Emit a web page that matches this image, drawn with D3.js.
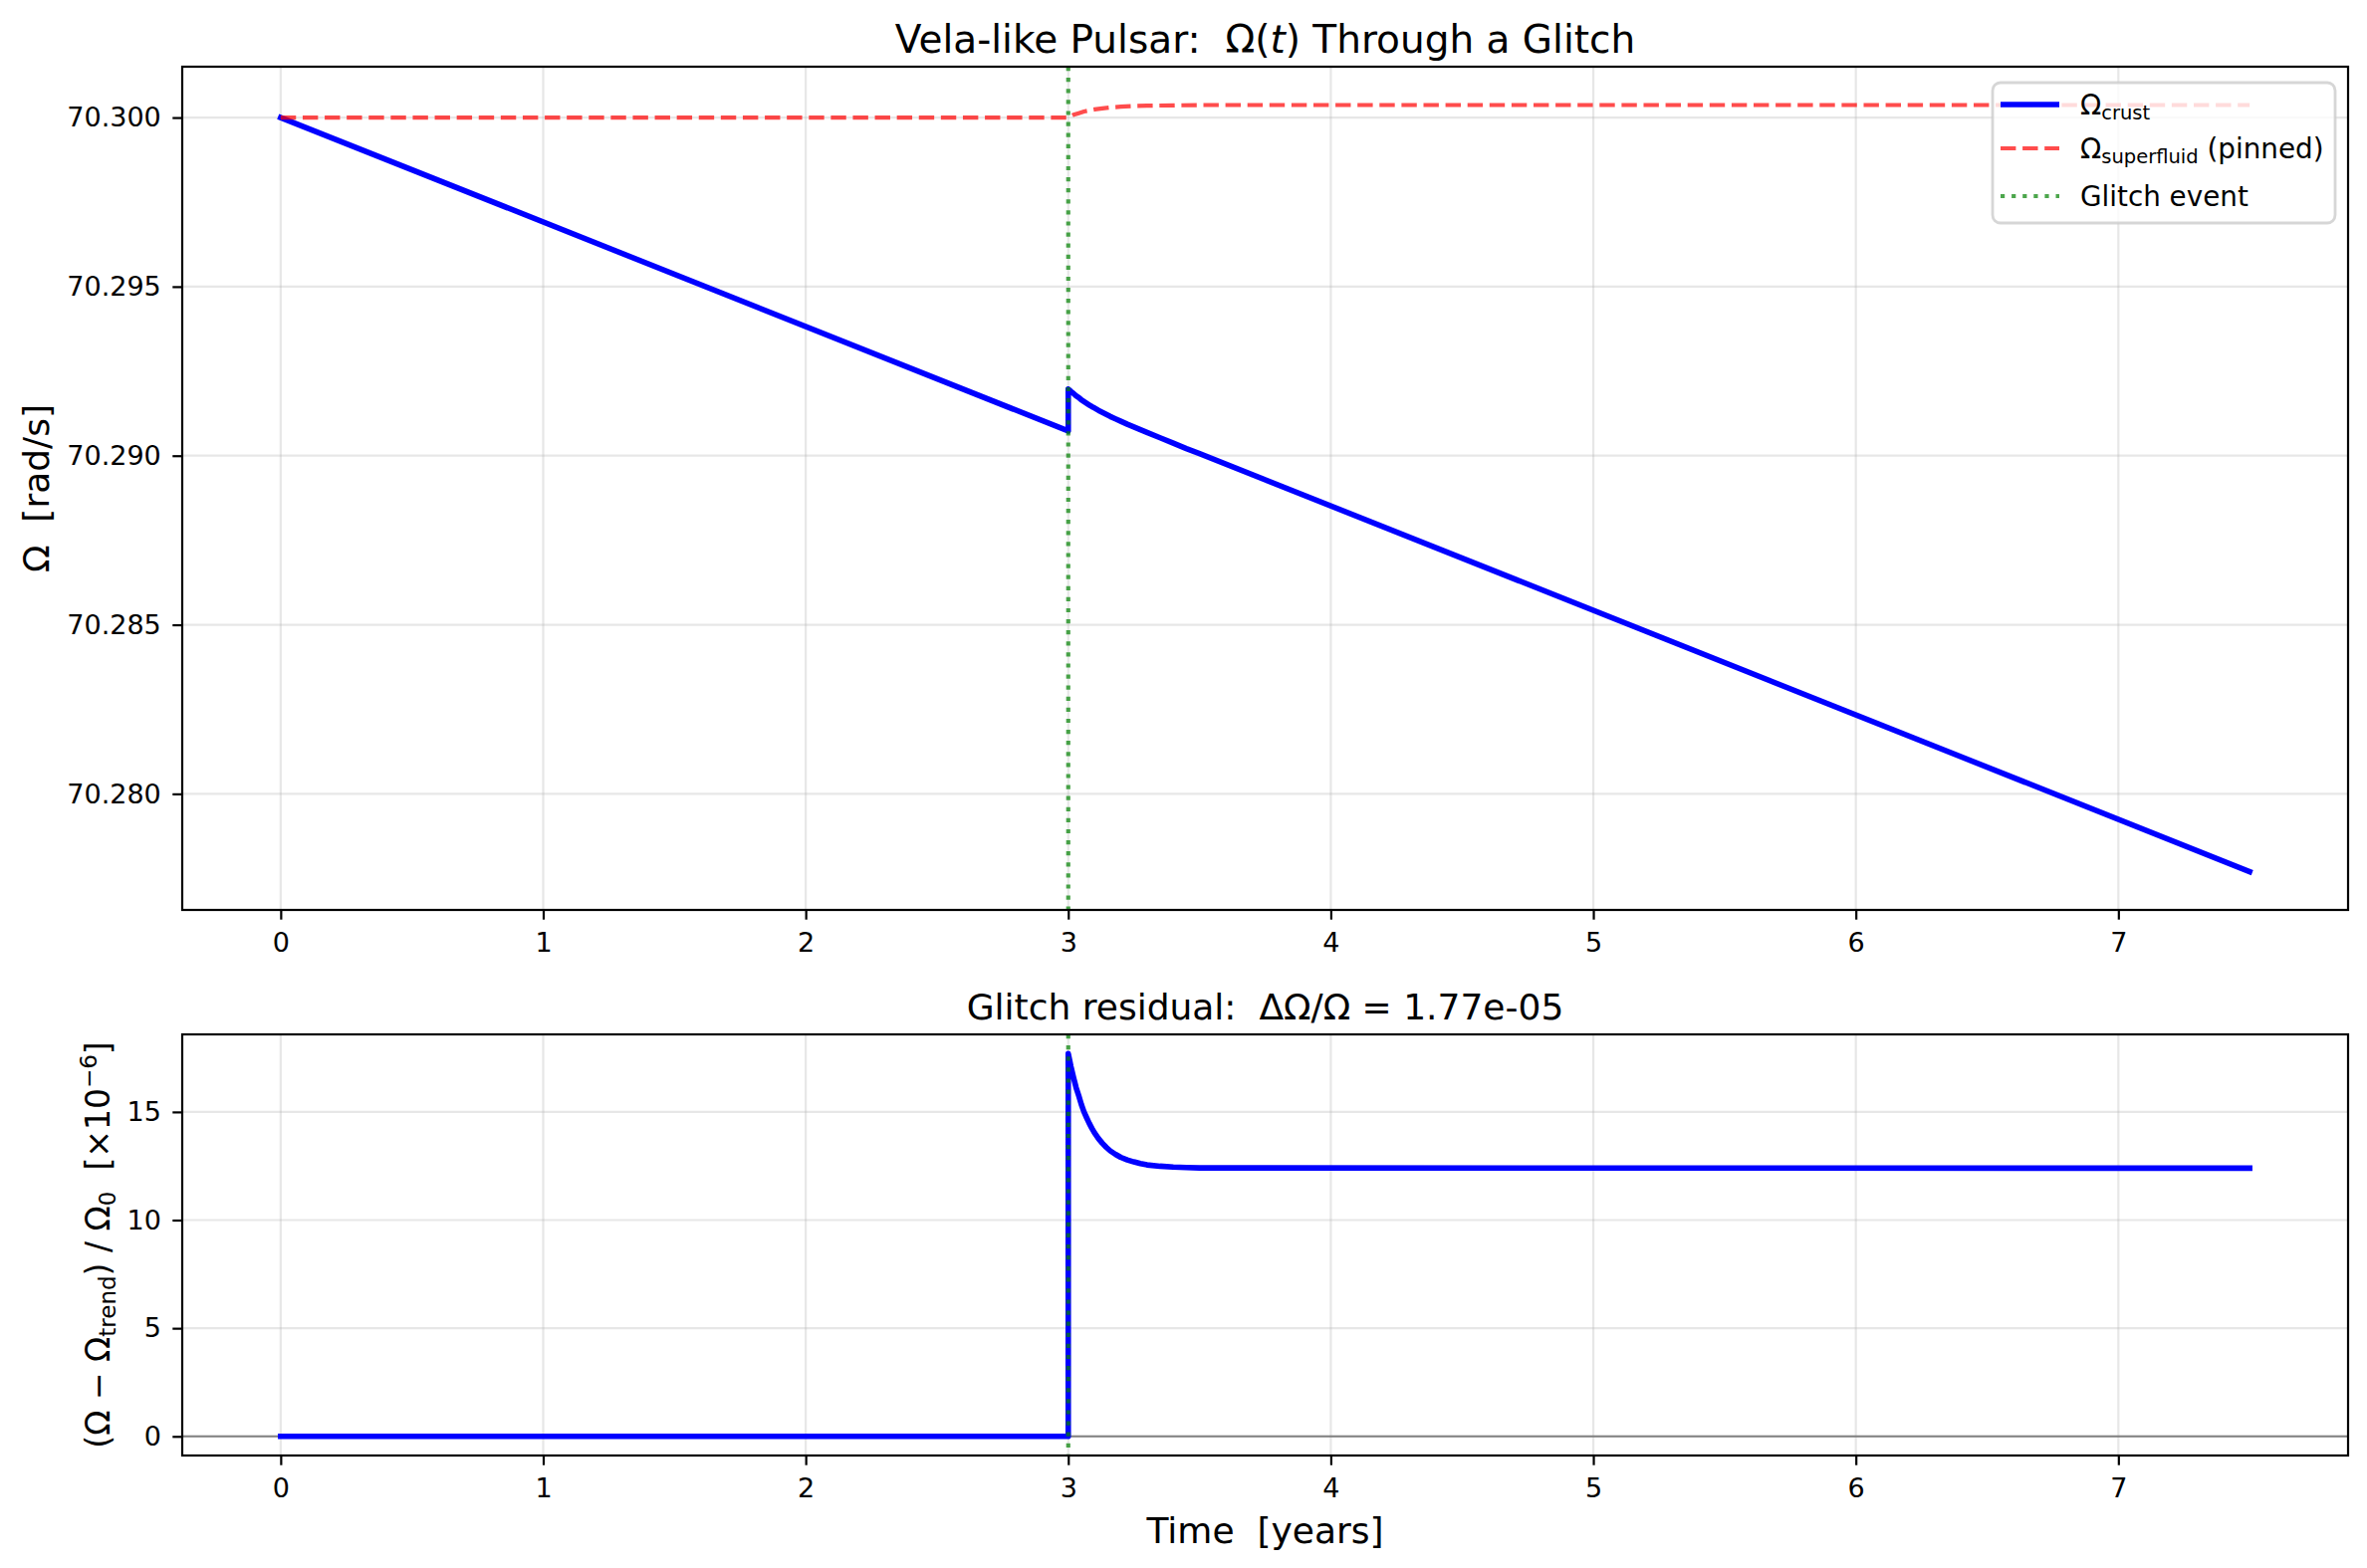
<!DOCTYPE html>
<html>
<head>
<meta charset="utf-8">
<script src="https://cdn.jsdelivr.net/npm/d3@7"></script>
<style>
body { margin: 0; background: #fff; }
svg text { font-family: "DejaVu Sans", sans-serif; white-space: pre; }
</style>
</head>
<body>
<div id="chart"></div>
<script>
// values
var crustYears = [0, 3.0, 3.0, 3.01, 3.02, 3.03, 3.04, 3.05, 3.06, 3.07, 3.08, 3.09, 3.10, 3.115, 3.13,
                  3.145, 3.16, 3.18, 3.20, 3.225, 3.25, 3.275, 3.30, 3.35, 3.40, 3.45, 3.50, 7.5];
var crustOmega = [70.30000, 70.29073, 70.29197, 70.29190, 70.29184, 70.29177, 70.29172, 70.29165,
                  70.29160, 70.29155, 70.29150, 70.29145, 70.29141, 70.29134, 70.29128, 70.29122,
                  70.29116, 70.29109, 70.29102, 70.29093, 70.29085, 70.29077, 70.29069, 70.29053,
                  70.29037, 70.29021, 70.29006, 70.27770];
var fluidYears = [0, 3.0, 3.02, 3.04, 3.06, 3.08, 3.10, 3.13, 3.16, 3.20, 3.25, 3.30, 3.40, 3.50, 7.5];
var fluidOmega = [70.30000, 70.30000, 70.30008, 70.30013, 70.30018, 70.30021, 70.30024, 70.30027,
                  70.30030, 70.30032, 70.30034, 70.30035, 70.30036, 70.30037, 70.30037];
// (Omega - trend) / Omega0 in units of 1e-6, at crustYears
var residual = [0, 0, 17.7, 17.11, 16.6, 16.12, 15.75, 15.34, 15.0, 14.73, 14.47, 14.24, 14.03, 13.77, 13.55,
                13.36, 13.2, 13.04, 12.9, 12.78, 12.69, 12.61, 12.55, 12.49, 12.45, 12.43, 12.41, 12.4];
var glitchYear = 3;

var xTicks = [0, 1, 2, 3, 4, 5, 6, 7];
var omegaTicks = [70.280, 70.285, 70.290, 70.295, 70.300];
var residTicks = [0, 5, 10, 15];

var W = 2377, H = 1575;
var LEFT = 183, RIGHT = 2358;

var svg = d3.select("#chart").append("svg")
	.attr("width", W)
	.attr("height", H);

// matplotlib style 5% margins
function padded(lo, hi) {
	var m = (hi - lo) * 0.05;
	return [lo - m, hi + m];
}

var x = d3.scaleLinear()
	.domain(padded(d3.min(crustYears), d3.max(crustYears)))
	.range([LEFT, RIGHT]);

/*
 * Panel - one axes box with grid, ticks and clipped plot area
 */
Panel = function (id, top, bottom, yDomain, yTicks, yFormat) {
	var vis = this;
	vis.top = top;
	vis.bottom = bottom;
	vis.y = d3.scaleLinear().domain(yDomain).range([bottom, top]);

	vis.g = svg.append("g");

	vis.g.append("clipPath")
		.attr("id", id)
		.append("rect")
		.attr("x", LEFT).attr("y", top)
		.attr("width", RIGHT - LEFT).attr("height", bottom - top);

	// grid
	vis.g.selectAll(".vgrid").data(xTicks).enter().append("line")
		.attr("x1", d => x(d)).attr("x2", d => x(d))
		.attr("y1", top).attr("y2", bottom)
		.attr("stroke", "#b0b0b0").attr("stroke-opacity", 0.3).attr("stroke-width", 2.2);
	vis.g.selectAll(".hgrid").data(yTicks).enter().append("line")
		.attr("x1", LEFT).attr("x2", RIGHT)
		.attr("y1", d => vis.y(d)).attr("y2", d => vis.y(d))
		.attr("stroke", "#b0b0b0").attr("stroke-opacity", 0.3).attr("stroke-width", 2.2);

	vis.plot = vis.g.append("g").attr("clip-path", "url(#" + id + ")");

	vis.xAxis = d3.axisBottom(x).tickValues(xTicks).tickFormat(d3.format("d"))
		.tickSizeInner(9.7).tickSizeOuter(0).tickPadding(13);
	vis.yAxis = d3.axisLeft(vis.y).tickValues(yTicks).tickFormat(yFormat)
		.tickSizeInner(9.7).tickSizeOuter(0).tickPadding(11.5);
}

Panel.prototype.line = function (xs, ys, color, width, dash, opacity) {
	var vis = this;
	var pts = xs.map(function (d, i) { return [x(d), vis.y(ys[i])]; });
	vis.plot.append("path")
		.attr("d", d3.line()(pts))
		.attr("fill", "none")
		.attr("stroke", color)
		.attr("stroke-width", width)
		.attr("stroke-opacity", opacity || 1)
		.attr("stroke-dasharray", dash || null)
		.attr("stroke-linejoin", "round")
		.attr("stroke-linecap", dash ? "butt" : "square");
}

Panel.prototype.glitchLine = function () {
	var vis = this;
	vis.plot.append("line")
		.attr("x1", x(glitchYear)).attr("x2", x(glitchYear))
		.attr("y1", vis.top).attr("y2", vis.bottom)
		.attr("stroke", "#008000").attr("stroke-opacity", 0.7)
		.attr("stroke-width", 4.2).attr("stroke-dasharray", "4.2,6.9");
}

Panel.prototype.finish = function () {
	var vis = this;
	var xa = vis.g.append("g")
		.attr("transform", "translate(0," + vis.bottom + ")")
		.call(vis.xAxis);
	var ya = vis.g.append("g")
		.attr("transform", "translate(" + LEFT + ",0)")
		.call(vis.yAxis);
	[xa, ya].forEach(function (a) {
		a.select(".domain").remove();
		a.selectAll("line").attr("stroke", "#000").attr("stroke-width", 2.2);
		a.selectAll("text").attr("fill", "#000")
			.attr("font-size", 27).attr("font-family", "DejaVu Sans");
	});
	vis.g.append("rect")
		.attr("x", LEFT).attr("y", vis.top)
		.attr("width", RIGHT - LEFT).attr("height", vis.bottom - vis.top)
		.attr("fill", "none").attr("stroke", "#000").attr("stroke-width", 2.2);
}

// ---- top panel: Omega(t)
var allOmega = crustOmega.concat(fluidOmega);
var topPanel = new Panel("clipTop", 67, 914,
	padded(d3.min(allOmega), d3.max(allOmega)), omegaTicks, d3.format(".3f"));
topPanel.line(crustYears, crustOmega, "#0000ff", 5.6);
topPanel.line(fluidYears, fluidOmega, "#ff0000", 4.2, "15.4,6.7", 0.7);
topPanel.glitchLine();
topPanel.finish();

// ---- bottom panel: residual
var botPanel = new Panel("clipBot", 1039, 1462,
	padded(d3.min(residual), d3.max(residual)), residTicks, d3.format("d"));
botPanel.plot.append("line")
	.attr("x1", LEFT).attr("x2", RIGHT)
	.attr("y1", botPanel.y(0)).attr("y2", botPanel.y(0))
	.attr("stroke", "#808080").attr("stroke-width", 2.2);
botPanel.line(crustYears, residual, "#0000ff", 5.6);
botPanel.glitchLine();
botPanel.finish();

// titles and labels
var mid = (LEFT + RIGHT) / 2;
var t1 = svg.append("text").attr("x", mid).attr("y", 53)
	.attr("text-anchor", "middle").attr("font-size", 39);
t1.append("tspan").text("Vela-like Pulsar:  Ω(");
t1.append("tspan").attr("font-style", "italic").text("t");
t1.append("tspan").text(") Through a Glitch");

svg.append("text").attr("x", mid).attr("y", 1024)
	.attr("text-anchor", "middle").attr("font-size", 36)
	.text("Glitch residual:  ΔΩ/Ω = 1.77e-05");

svg.append("text").attr("x", mid).attr("y", 1550)
	.attr("text-anchor", "middle").attr("font-size", 36)
	.text("Time  [years]");

svg.append("text")
	.attr("transform", "translate(49," + (67 + 914) / 2 + ") rotate(-90)")
	.attr("text-anchor", "middle").attr("font-size", 36)
	.text("Ω  [rad/s]");

var yl = svg.append("text")
	.attr("transform", "translate(110," + (1039 + 1462) / 2 + ") rotate(-90)")
	.attr("text-anchor", "middle").attr("font-size", 33);
yl.append("tspan").text("(Ω − Ω");
yl.append("tspan").attr("font-size", 23).attr("dy", 6).text("trend");
yl.append("tspan").attr("dy", -6).text(") / Ω");
yl.append("tspan").attr("font-size", 23).attr("dy", 6).text("0");
yl.append("tspan").attr("dy", -6).text("  [×10");
yl.append("tspan").attr("font-size", 23).attr("dy", -13).text("−6");
yl.append("tspan").attr("dy", 13).text("]");

// legend
var leg = svg.append("g");
leg.append("rect")
	.attr("x", 2001).attr("y", 83).attr("width", 344).attr("height", 141)
	.attr("rx", 8).attr("ry", 8)
	.attr("fill", "#fff").attr("fill-opacity", 0.8)
	.attr("stroke", "#cccccc").attr("stroke-opacity", 0.8).attr("stroke-width", 2.8);

var legendItems = [
	{ y: 105, color: "#0000ff", width: 5.6, dash: null, opacity: 1, main: "Ω", sub: "crust", rest: "" },
	{ y: 149, color: "#ff0000", width: 4.2, dash: "15.4,6.7", opacity: 0.7, main: "Ω", sub: "superfluid", rest: " (pinned)" },
	{ y: 197, color: "#008000", width: 4.2, dash: "4.2,6.9", opacity: 0.7, main: "Glitch event", sub: "", rest: "" }
];
legendItems.forEach(function (d) {
	leg.append("line")
		.attr("x1", 2009).attr("x2", 2068).attr("y1", d.y).attr("y2", d.y)
		.attr("stroke", d.color).attr("stroke-width", d.width)
		.attr("stroke-opacity", d.opacity).attr("stroke-dasharray", d.dash);
	var t = leg.append("text").attr("x", 2089).attr("y", d.y + 10).attr("font-size", 27.8);
	t.append("tspan").text(d.main);
	if (d.sub) t.append("tspan").attr("font-size", 19.5).attr("dy", 5).text(d.sub);
	if (d.rest) t.append("tspan").attr("dy", -5).text(d.rest);
});
</script>
</body>
</html>
